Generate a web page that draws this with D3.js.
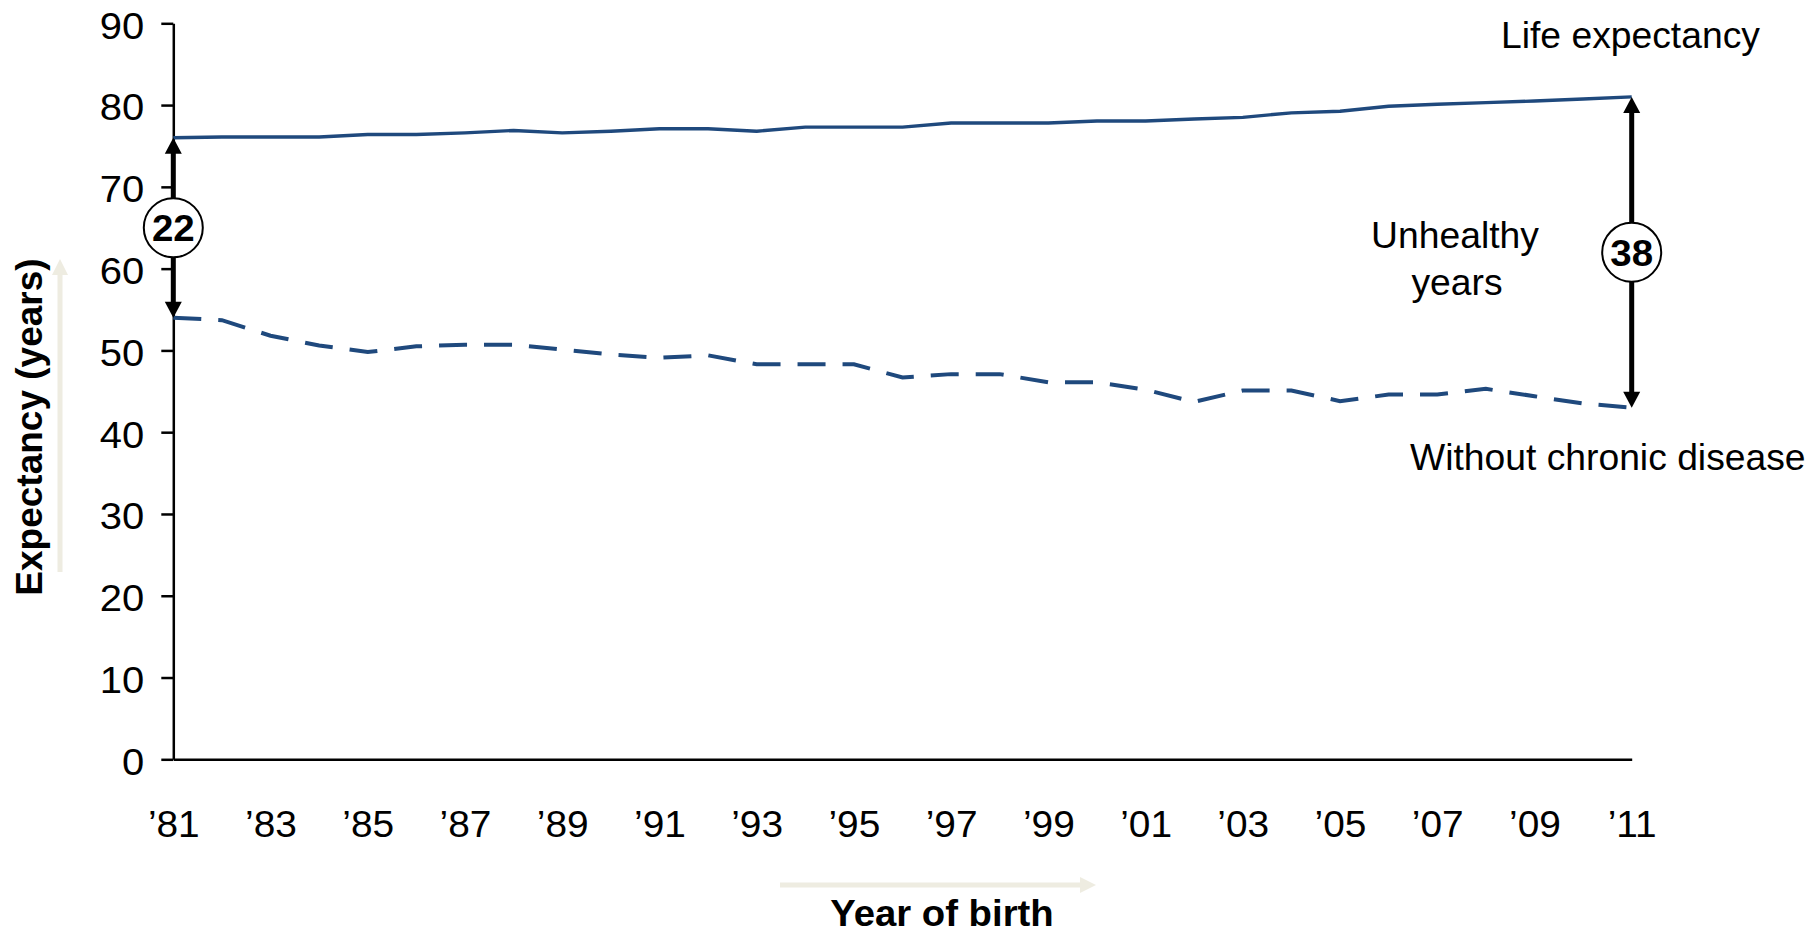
<!DOCTYPE html>
<html>
<head>
<meta charset="utf-8">
<script src="https://cdn.jsdelivr.net/npm/d3@7"></script>
<style>
  html, body { margin: 0; padding: 0; background: #ffffff; }
  text { font-family: "Liberation Sans", Arial, Helvetica, sans-serif; fill: #000; }
</style>
</head>
<body>
<svg id="chart" width="1812" height="933"></svg>
<script>
// Year of birth, 1981–2011
const years = d3.range(1981, 2012);

// Life expectancy at birth (years)
const lifeExpectancy = [
  76.0, 76.1, 76.1, 76.1, 76.4, 76.4, 76.6, 76.9, 76.6, 76.8,
  77.1, 77.1, 76.8, 77.3, 77.3, 77.3, 77.8, 77.8, 77.8, 78.05,
  78.05, 78.3, 78.5, 79.05, 79.25, 79.85, 80.1, 80.3, 80.5, 80.75,
  81.0
];

// Expected years without chronic disease
const withoutChronic = [
  54.0, 53.7, 51.8, 50.6, 49.8, 50.5, 50.7, 50.7, 50.1, 49.5,
  49.1, 49.4, 48.3, 48.3, 48.3, 46.7, 47.1, 47.1, 46.1, 46.1,
  45.2, 43.7, 45.1, 45.1, 43.8, 44.6, 44.6, 45.3, 44.4, 43.5,
  43.0
];

const yTicks = [0, 10, 20, 30, 40, 50, 60, 70, 80, 90];
const xTickYears = [1981, 1983, 1985, 1987, 1989, 1991, 1993, 1995, 1997, 1999, 2001, 2003, 2005, 2007, 2009, 2011];
const xTickLabels = ["’81", "’83", "’85", "’87", "’89", "’91", "’93", "’95", "’97", "’99", "’01", "’03", "’05", "’07", "’09", "’11"];

// Years at which the gap between the two series is marked
const gapYears = [1981, 2011];

const lineColor = "#1F497D";
const guideColor = "#EEECE1";

const svg = d3.select("#chart");

const x = d3.scaleLinear().domain([1981, 2011]).range([173.3, 1631.7]);
const y = d3.scaleLinear().domain([0, 90]).range([759.3, 23.3]);

// Widen a text's glyphs slightly (the type in this chart is set a little wide)
function widen(sel, k) {
  sel.each(function () {
    const len = this.getComputedTextLength();
    d3.select(this).attr("textLength", len * k).attr("lengthAdjust", "spacingAndGlyphs");
  });
}

// --- guide arrows beside the axis titles ---
const defs = svg.append("defs");
defs.append("marker")
  .attr("id", "guideHead")
  .attr("viewBox", "0 0 10 10")
  .attr("refX", 0).attr("refY", 5)
  .attr("markerUnits", "userSpaceOnUse")
  .attr("markerWidth", 17).attr("markerHeight", 16)
  .attr("orient", "auto")
  .append("path").attr("d", "M0,0 L10,5 L0,10 Z").attr("fill", guideColor);

svg.append("line")
  .attr("x1", 60).attr("y1", 572).attr("x2", 60).attr("y2", 275)
  .attr("stroke", guideColor).attr("stroke-width", 5)
  .attr("marker-end", "url(#guideHead)");

svg.append("line")
  .attr("x1", 780).attr("y1", 885).attr("x2", 1080).attr("y2", 885)
  .attr("stroke", guideColor).attr("stroke-width", 5)
  .attr("marker-end", "url(#guideHead)");

// --- axes ---
const yAxis = d3.axisLeft(y).tickValues(yTicks).tickSize(12).tickPadding(17).tickSizeOuter(0);
const gy = svg.append("g").attr("transform", `translate(${x(1981)},0)`).call(yAxis);
gy.select(".domain").attr("stroke", "#000").attr("stroke-width", 2.5);
gy.selectAll(".tick line").attr("stroke", "#000").attr("stroke-width", 2.5);
gy.selectAll(".tick text")
  .attr("dy", "0.4em")
  .style("font-size", "37px");
gy.attr("font-family", null).attr("font-size", null);

const xAxis = d3.axisBottom(x).tickValues(xTickYears)
  .tickFormat((d, i) => xTickLabels[i]).tickSize(0).tickPadding(52).tickSizeOuter(0);
const gx = svg.append("g").attr("transform", `translate(0,${y(0)})`).call(xAxis);
gx.select(".domain").attr("stroke", "#000").attr("stroke-width", 2.5);
gx.selectAll(".tick text")
  .attr("y", 51)
  .attr("dy", "0.71em")
  .style("font-size", "37px");
gx.attr("font-family", null).attr("font-size", null);

// --- series ---
const line = d3.line().x((d, i) => x(years[i])).y(d => y(d));

svg.append("path")
  .datum(lifeExpectancy)
  .attr("d", line)
  .attr("fill", "none")
  .attr("stroke", lineColor)
  .attr("stroke-width", 3.4)
  .attr("stroke-linejoin", "round");

svg.append("path")
  .datum(withoutChronic)
  .attr("d", line)
  .attr("fill", "none")
  .attr("stroke", lineColor)
  .attr("stroke-width", 4)
  .attr("stroke-dasharray", "28,17");

// --- gap markers: double-headed arrows with the gap in a circle ---
const headLen = 16, headHalf = 8.5;
gapYears.forEach(yr => {
  const i = years.indexOf(yr);
  const top = lifeExpectancy[i], bottom = withoutChronic[i];
  const gap = Math.round(top - bottom);
  const cx = x(yr);
  const yTop = y(top), yBot = y(bottom);
  const g = svg.append("g");
  g.append("line")
    .attr("x1", cx).attr("x2", cx)
    .attr("y1", yTop + headLen - 1).attr("y2", yBot - headLen + 1)
    .attr("stroke", "#000").attr("stroke-width", 5);
  g.append("path")
    .attr("d", `M${cx},${yTop} L${cx - headHalf},${yTop + headLen} L${cx + headHalf},${yTop + headLen} Z`)
    .attr("fill", "#000");
  g.append("path")
    .attr("d", `M${cx},${yBot} L${cx - headHalf},${yBot - headLen} L${cx + headHalf},${yBot - headLen} Z`)
    .attr("fill", "#000");
  const cy = y((top + bottom) / 2);
  g.append("circle")
    .attr("cx", cx).attr("cy", cy).attr("r", 29.5)
    .attr("fill", "#fff").attr("stroke", "#000").attr("stroke-width", 2);
  g.append("text")
    .attr("class", "gap-label")
    .attr("x", cx).attr("y", cy)
    .attr("dy", "0.36em")
    .attr("text-anchor", "middle")
    .style("font-size", "37px").style("font-weight", "bold")
    .text(gap);
});

// --- series labels ---
svg.append("text")
  .attr("class", "label")
  .attr("x", 1501).attr("y", 48)
  .style("font-size", "36px")
  .text("Life expectancy");

svg.append("text")
  .attr("class", "label")
  .attr("x", 1455).attr("y", 248)
  .attr("text-anchor", "middle")
  .style("font-size", "36px")
  .text("Unhealthy");
svg.append("text")
  .attr("class", "label")
  .attr("x", 1457).attr("y", 295)
  .attr("text-anchor", "middle")
  .style("font-size", "36px")
  .text("years");

svg.append("text")
  .attr("class", "label")
  .attr("x", 1410).attr("y", 470)
  .style("font-size", "36px")
  .text("Without chronic disease");

// --- axis titles ---
svg.append("text")
  .attr("transform", "translate(42,427) rotate(-90)")
  .attr("text-anchor", "middle")
  .style("font-size", "37px").style("font-weight", "bold")
  .text("Expectancy (years)");

svg.append("text")
  .attr("class", "label")
  .attr("x", 942).attr("y", 926)
  .attr("text-anchor", "middle")
  .style("font-size", "37px").style("font-weight", "bold")
  .text("Year of birth");

// slightly wide setting of the horizontal type
widen(svg.selectAll(".label"), 1.035);
widen(gy.selectAll(".tick text"), 1.08);
widen(gx.selectAll(".tick text"), 1.05);
widen(svg.selectAll(".gap-label"), 1.04);
</script>
</body>
</html>
